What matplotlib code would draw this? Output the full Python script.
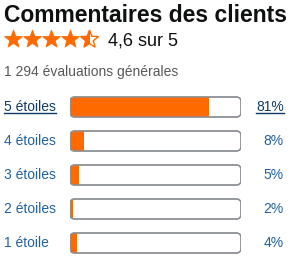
import numpy as np
import matplotlib
matplotlib.use("Agg")
import matplotlib.pyplot as plt
from matplotlib.patches import FancyBboxPatch, Rectangle
from matplotlib.path import Path
from matplotlib.patches import PathPatch

# Data
title = "Commentaires des clients"
rating = 4.6
rating_label = "4,6 sur 5"
total_label = "1 294 évaluations générales"
star_labels = ["5 étoiles", "4 étoiles", "3 étoiles", "2 étoiles", "1 étoile"]
percents = [81, 8, 5, 2, 4]

ORANGE = "#FF6A00"
LINK = "#2162A1"
LINK_DARK = "#0F3B66"
GREY = "#8D9096"

plt.rcParams["font.family"] = ["Liberation Sans", "DejaVu Sans"]

W, H = 298, 266
fig = plt.figure(figsize=(W / 100, H / 100), dpi=100)
fig.patch.set_facecolor("white")

# pixel overlay for text and stars
ax = fig.add_axes([0, 0, 1, 1])
ax.set_xlim(0, W)
ax.set_ylim(H, 0)
ax.axis("off")

ax.text(4, 22, title, fontsize=16.5, fontweight="bold", color="#0F1111",
        va="baseline", ha="left")


def star_path(cx, cy, r):
    pts = []
    for k in range(10):
        ang = np.pi / 2 + k * np.pi / 5
        rr = r if k % 2 == 0 else r * 0.42
        pts.append((cx + rr * np.cos(ang), cy - rr * np.sin(ang)))
    pts.append(pts[0])
    codes = [Path.MOVETO] + [Path.LINETO] * 9 + [Path.CLOSEPOLY]
    return Path(pts, codes)


shown = round(rating * 2) / 2
for i in range(5):
    cx = 13.5 + i * 19
    p = star_path(cx, 39.5, 9.5)
    fill = min(max(shown - i, 0), 1)
    if fill >= 1:
        ax.add_patch(PathPatch(p, facecolor=ORANGE, edgecolor=ORANGE, lw=0.5))
    else:
        outline = PathPatch(p, facecolor="white", edgecolor=ORANGE, lw=1.0)
        ax.add_patch(outline)
        if fill > 0:
            inner = PathPatch(p, facecolor=ORANGE, edgecolor="none")
            ax.add_patch(inner)
            clip = Rectangle((cx - 10, 28), 10 * 2 * fill, 24,
                             transform=ax.transData)
            inner.set_clip_path(clip)

ax.text(108, 41, rating_label, fontsize=13, color="#0F1111",
        va="center", ha="left")
ax.text(4, 72, total_label, fontsize=10, color="#565959",
        va="center", ha="left")

# bar area
x0, x1 = 70, 241
y0, y1 = 90, 260
bax = fig.add_axes([x0 / W, 1 - y1 / H, (x1 - x0) / W, (y1 - y0) / H])
bax.set_xlim(0, 100)
bax.set_ylim(len(percents) - 0.5, -0.5)
bax.axis("off")

bar_h = 20 / 34
aspect = (1 / 34) / (100 / (x1 - x0))
for i, (lab, pct) in enumerate(zip(star_labels, percents)):
    box = FancyBboxPatch((0, i - bar_h / 2), 100, bar_h,
                         boxstyle="round,pad=0,rounding_size=2.8",
                         mutation_aspect=aspect,
                         facecolor="white", edgecolor=GREY, lw=1.0, zorder=1)
    bax.add_patch(box)
    bars = bax.barh([i], [pct], height=bar_h, left=0, color=ORANGE, zorder=2)
    for b in bars:
        b.set_clip_path(box)
    edge = FancyBboxPatch((0, i - bar_h / 2), 100, bar_h,
                          boxstyle="round,pad=0,rounding_size=2.8",
                          mutation_aspect=aspect,
                          facecolor="none", edgecolor=GREY, lw=1.0, zorder=3)
    bax.add_patch(edge)

    cy = 107 + 34 * i
    col = LINK_DARK if i == 0 else LINK
    t1 = ax.text(4, cy, lab, fontsize=10, color=col, va="center", ha="left")
    t2 = ax.text(284, cy, f"{pct}%", fontsize=10, color=col,
                 va="center", ha="right")
    if i == 0:
        for t in (t1, t2):
            fig.canvas.draw()
            bb = t.get_window_extent().transformed(ax.transData.inverted())
            ax.plot([bb.x0, bb.x1], [cy + 5.5, cy + 5.5], color=col, lw=1)

fig.savefig("out.png", dpi=100)
